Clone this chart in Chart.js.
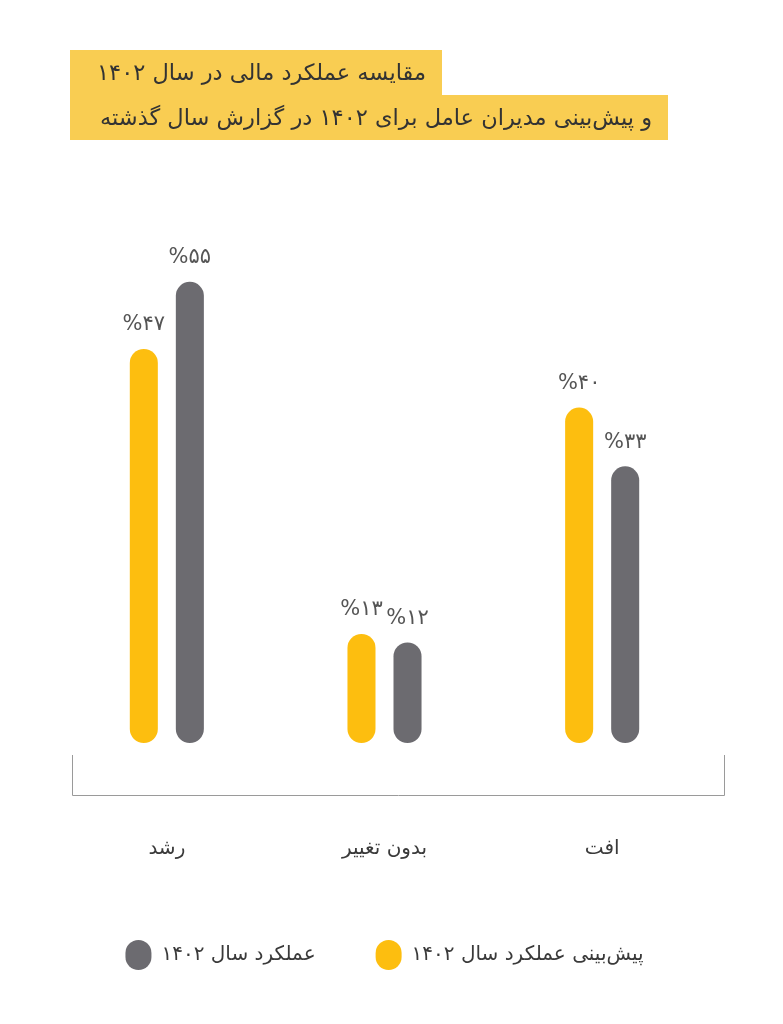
<!DOCTYPE html>
<html lang="fa">
<head>
<meta charset="utf-8">
<script src="https://cdn.jsdelivr.net/npm/chart.js@4"></script>
<style>
  html, body { margin: 0; padding: 0; background: #fff; }
  #wrap { position: relative; width: 783px; height: 1024px; }
  #title { position: absolute; left: 70px; top: 50px; font-family: "DejaVu Sans", sans-serif; color: #333; }
  #title div { background: #f9cd52; height: 45px; line-height: 45px; font-size: 22.5px; direction: rtl; text-align: right; padding-right: 16px; box-sizing: border-box; white-space: nowrap; }
  canvas { position: absolute; left: 0; top: 0; }
</style>
</head>
<body>
<div id="wrap">
  <canvas id="chart" width="783" height="1024"></canvas>
  <div id="title">
    <div style="width:372px">مقایسه عملکرد مالی در سال ۱۴۰۲</div>
    <div style="width:598px">و پیش‌بینی مدیران عامل برای ۱۴۰۲ در گزارش سال گذشته</div>
  </div>
</div>
<script>
// دسته‌ها و مقادیر
const kategori = ["رشد", "بدون تغییر", "افت"];
const labelPishbini = "پیش‌بینی عملکرد سال ۱۴۰۲";
const labelAmalkard = "عملکرد سال ۱۴۰۲";
const dataPishbini = [47, 13, 40];
const dataAmalkard = [55, 12, 33];

const warnaKuning = "#fdbe0f";
const warnaAbu = "#6c6b70";
const fontFa = "'DejaVu Sans', sans-serif";

// اعداد فارسی
function faDigits(n) {
  return String(n).replace(/\d/g, (d) => "۰۱۲۳۴۵۶۷۸۹"[d]);
}

// برچسب مقدار بالای هر ستون
const valueLabels = {
  id: "valueLabels",
  afterDatasetsDraw(chart) {
    const ctx = chart.ctx;
    ctx.save();
    ctx.font = "21px " + fontFa;
    ctx.fillStyle = "#555";
    ctx.textAlign = "center";
    ctx.textBaseline = "middle";
    ctx.direction = "ltr";
    chart.data.datasets.forEach((ds, i) => {
      chart.getDatasetMeta(i).data.forEach((bar, j) => {
        ctx.fillText("%" + faDigits(ds.data[j]), bar.x, bar.y - 24);
      });
    });
    ctx.restore();
  },
};

// خط پایه به شکل براکت
const baseBracket = {
  id: "baseBracket",
  beforeDatasetsDraw(chart) {
    const a = chart.chartArea;
    const ctx = chart.ctx;
    const x1 = a.left + 14, x2 = a.right + 14, y = a.bottom;
    ctx.save();
    ctx.strokeStyle = "#9a9a9a";
    ctx.lineWidth = 1;
    ctx.beginPath();
    ctx.moveTo(x1 + 0.5, y - 40);
    ctx.lineTo(x1 + 0.5, y + 0.5);
    ctx.lineTo(x2 - 0.5, y + 0.5);
    ctx.lineTo(x2 - 0.5, y - 40);
    ctx.stroke();
    ctx.restore();
  },
};

const ctx = document.getElementById("chart").getContext("2d");
new Chart(ctx, {
  type: "bar",
  data: {
    labels: kategori,
    datasets: [
      {
        label: labelPishbini,
        data: dataPishbini,
        backgroundColor: warnaKuning,
        borderRadius: 14,
        borderSkipped: false,
      },
      {
        label: labelAmalkard,
        data: dataAmalkard,
        backgroundColor: warnaAbu,
        borderRadius: 14,
        borderSkipped: false,
      },
    ],
  },
  options: {
    responsive: false,
    animation: false,
    devicePixelRatio: 1,
    categoryPercentage: 0.423,
    barPercentage: 0.609,
    layout: {
      padding: { top: 198, left: 58, right: 72, bottom: 44 },
    },
    scales: {
      y: {
        display: false,
        min: -6.2,
        max: 65,
      },
      x: {
        grid: { display: false, drawTicks: false },
        border: { display: false },
        ticks: {
          padding: 42,
          color: "#3a3a3a",
          font: { family: fontFa, size: 20 },
        },
        afterFit(scale) {
          scale.height = 85;
        },
      },
    },
    plugins: {
      tooltip: { enabled: false },
      legend: {
        position: "bottom",
        reverse: true,
        labels: {
          color: "#3a3a3a",
          font: { family: fontFa, size: 20 },
          boxWidth: 26,
          boxHeight: 30,
          useBorderRadius: true,
          borderRadius: 13,
          padding: 60,
        },
      },
    },
  },
  plugins: [valueLabels, baseBracket],
});
</script>
</body>
</html>
